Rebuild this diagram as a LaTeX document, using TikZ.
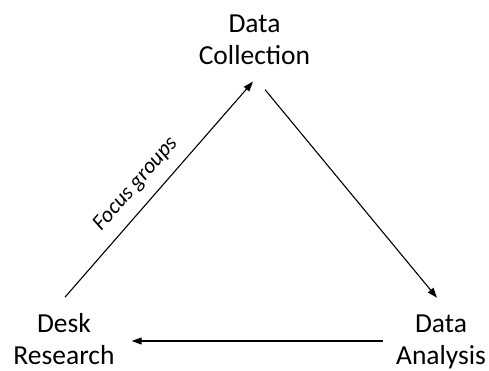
\documentclass[tikz,border=0pt]{standalone}
\usepackage{fontspec}
\setmainfont{Carlito}
\usetikzlibrary{arrows.meta,calc}
\begin{document}
\begin{tikzpicture}[x=1pt,y=1pt,
  lbl/.style={align=center,inner sep=3pt,font=\fontsize{27.5}{32}\selectfont},
  conn/.style={line width=1.1pt,-{Triangle[length=10pt,width=7pt]}}]
\useasboundingbox (0,0) rectangle (489,371);
\node[lbl] (dc) at (254.5,331.5) {Data\\Collection};
\node[lbl] (dr) at (64,32) {Desk\\Research};
\node[lbl] (da) at (441,29) {Data\\Analysis};
\draw[conn] ($(dr.north)+(1,13)$) -- ($(dc.south)+(-1.5,-14)$)
  node[pos=0.46,sloped,above=8pt,font=\fontsize{22}{26}\selectfont\itshape] (fg) {Focus groups};
\draw[conn] ($(dc.south)+(10.5,-22)$) -- ($(da.north)+(-4,14)$);
\draw[conn] ($(da.west)+(-10,1)$) -- ($(dr.east)+(14,-2)$);
\end{tikzpicture}
\end{document}
